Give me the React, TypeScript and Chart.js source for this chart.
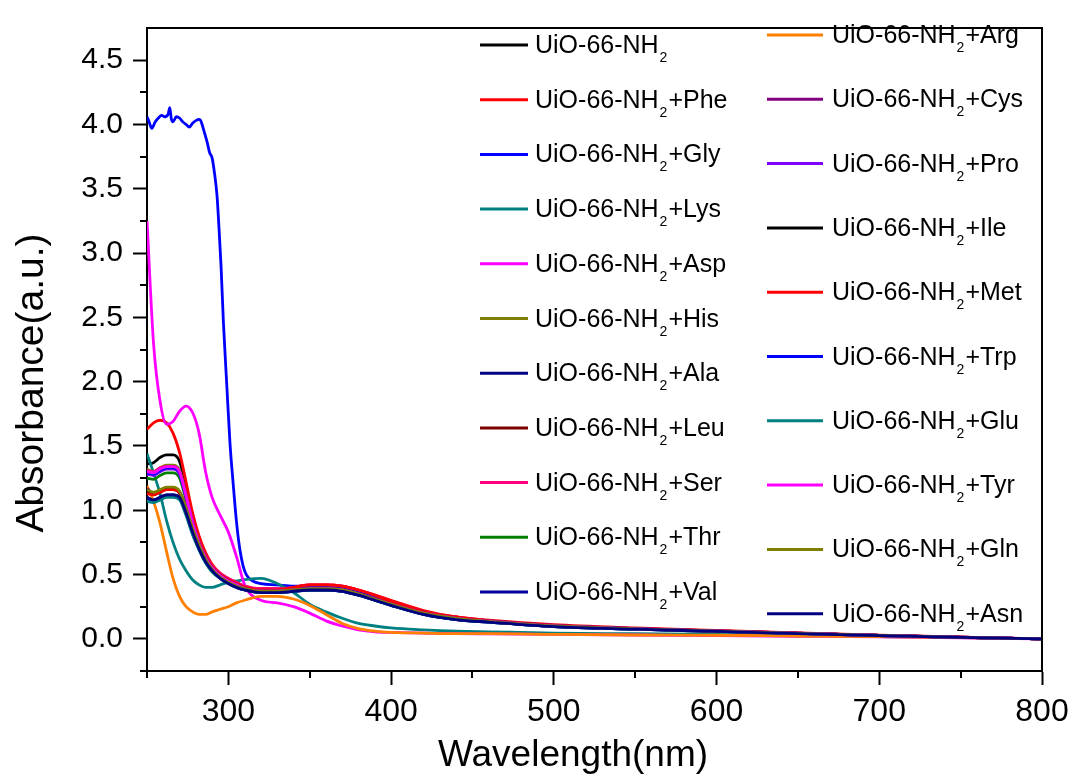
import React, { useEffect, useRef } from "react";
import { Chart, registerables } from "chart.js";

Chart.register(...registerables);

// Wavelength grid (nm) shared by most spectra
const WL = [250, 254, 258, 262, 266, 270, 274, 278, 282, 286, 290, 295, 300, 305, 310, 320, 330, 340, 350, 360, 370, 380, 390, 400, 420, 440, 460, 500, 550, 600, 650, 700, 750, 800];

// Gly spectrum is sampled more densely (noisy saturated plateau)
const GLY_WL = [250, 251, 253, 255, 257, 259, 261, 263, 264, 265, 266, 268, 270, 272, 274, 276, 278, 280, 282, 283, 285, 287, 288.5, 290, 291.5, 293, 294, 295.5, 297, 299, 301, 303, 305, 307, 309, 311, 315, 320, 330, 340, 350, 360, 370, 380, 390, 400, 420, 440, 460, 500, 550, 600, 650, 700, 750, 800];

const A_NH2 = [1.36, 1.37, 1.41, 1.43, 1.43, 1.38, 1.18, 0.94, 0.76, 0.64, 0.56, 0.50, 0.46, 0.43, 0.40, 0.38, 0.38, 0.39, 0.40, 0.40, 0.39, 0.36, 0.32, 0.28, 0.21, 0.165, 0.14, 0.105, 0.08, 0.062, 0.044, 0.027, 0.013, 0];
const A_PHE = [1.63, 1.68, 1.70, 1.68, 1.60, 1.45, 1.22, 0.98, 0.80, 0.67, 0.58, 0.51, 0.47, 0.44, 0.41, 0.39, 0.39, 0.40, 0.42, 0.42, 0.41, 0.38, 0.34, 0.30, 0.22, 0.17, 0.145, 0.11, 0.085, 0.065, 0.046, 0.028, 0.014, 0];
const A_GLY = [4.06, 4.03, 3.97, 4.02, 4.05, 4.07, 4.06, 4.08, 4.13, 4.04, 4.02, 4.06, 4.05, 4.02, 4.00, 3.98, 4.01, 4.03, 4.04, 4.03, 3.95, 3.86, 3.78, 3.74, 3.62, 3.45, 3.25, 2.9, 2.45, 1.98, 1.52, 1.2, 0.91, 0.70, 0.57, 0.50, 0.45, 0.43, 0.42, 0.41, 0.41, 0.41, 0.40, 0.36, 0.32, 0.28, 0.21, 0.165, 0.14, 0.105, 0.08, 0.062, 0.044, 0.027, 0.013, 0];
const A_LYS = [1.44, 1.29, 1.13, 0.92, 0.75, 0.62, 0.53, 0.46, 0.42, 0.40, 0.40, 0.42, 0.44, 0.45, 0.46, 0.47, 0.43, 0.36, 0.27, 0.21, 0.16, 0.12, 0.10, 0.085, 0.07, 0.06, 0.055, 0.045, 0.04, 0.035, 0.025, 0.018, 0.01, 0];
const A_ASP = [3.25, 2.30, 1.85, 1.67, 1.69, 1.77, 1.81, 1.76, 1.60, 1.30, 1.10, 0.96, 0.83, 0.64, 0.42, 0.30, 0.28, 0.25, 0.20, 0.14, 0.10, 0.07, 0.055, 0.05, 0.045, 0.04, 0.038, 0.035, 0.03, 0.025, 0.02, 0.015, 0.008, 0];
const A_HIS = [1.32, 1.30, 1.33, 1.35, 1.35, 1.31, 1.12, 0.91, 0.75, 0.63, 0.55, 0.49, 0.45, 0.42, 0.39, 0.37, 0.37, 0.38, 0.39, 0.39, 0.38, 0.35, 0.31, 0.27, 0.20, 0.16, 0.135, 0.10, 0.078, 0.06, 0.042, 0.026, 0.012, 0];
const A_ALA = [1.10, 1.08, 1.10, 1.12, 1.12, 1.10, 0.98, 0.83, 0.70, 0.60, 0.53, 0.47, 0.43, 0.40, 0.38, 0.36, 0.36, 0.37, 0.38, 0.38, 0.37, 0.34, 0.30, 0.26, 0.19, 0.15, 0.13, 0.095, 0.075, 0.058, 0.04, 0.025, 0.012, 0];
const A_LEU = [1.14, 1.12, 1.14, 1.16, 1.16, 1.13, 1.00, 0.85, 0.72, 0.62, 0.54, 0.48, 0.44, 0.41, 0.39, 0.37, 0.37, 0.38, 0.39, 0.39, 0.38, 0.35, 0.31, 0.27, 0.20, 0.16, 0.135, 0.10, 0.078, 0.06, 0.042, 0.026, 0.012, 0];
const A_SER = [1.31, 1.30, 1.33, 1.34, 1.34, 1.30, 1.12, 0.92, 0.76, 0.65, 0.57, 0.51, 0.47, 0.44, 0.41, 0.39, 0.39, 0.40, 0.42, 0.42, 0.41, 0.38, 0.34, 0.29, 0.21, 0.17, 0.14, 0.105, 0.08, 0.062, 0.044, 0.027, 0.013, 0];
const A_THR = [1.25, 1.24, 1.27, 1.29, 1.29, 1.25, 1.08, 0.88, 0.73, 0.62, 0.55, 0.49, 0.45, 0.42, 0.39, 0.37, 0.37, 0.38, 0.39, 0.39, 0.38, 0.35, 0.31, 0.27, 0.20, 0.16, 0.135, 0.10, 0.078, 0.06, 0.042, 0.026, 0.012, 0];
const A_VAL = [1.09, 1.07, 1.09, 1.11, 1.11, 1.09, 0.97, 0.82, 0.70, 0.60, 0.53, 0.47, 0.43, 0.40, 0.38, 0.36, 0.36, 0.37, 0.38, 0.38, 0.37, 0.34, 0.30, 0.26, 0.19, 0.15, 0.13, 0.095, 0.075, 0.058, 0.04, 0.025, 0.012, 0];
const A_ARG = [1.19, 1.07, 0.90, 0.68, 0.47, 0.33, 0.25, 0.21, 0.19, 0.19, 0.21, 0.23, 0.25, 0.28, 0.30, 0.33, 0.33, 0.31, 0.26, 0.19, 0.12, 0.08, 0.06, 0.05, 0.045, 0.04, 0.04, 0.035, 0.03, 0.028, 0.022, 0.017, 0.01, 0];
const A_CYS = [1.17, 1.13, 1.15, 1.17, 1.17, 1.14, 1.01, 0.85, 0.72, 0.62, 0.54, 0.48, 0.44, 0.41, 0.39, 0.37, 0.37, 0.38, 0.39, 0.39, 0.38, 0.35, 0.31, 0.27, 0.20, 0.16, 0.135, 0.10, 0.078, 0.06, 0.042, 0.026, 0.012, 0];
const A_PRO = [1.28, 1.27, 1.30, 1.32, 1.32, 1.28, 1.10, 0.89, 0.74, 0.63, 0.55, 0.49, 0.45, 0.42, 0.39, 0.37, 0.37, 0.38, 0.39, 0.39, 0.38, 0.35, 0.31, 0.27, 0.20, 0.16, 0.135, 0.10, 0.078, 0.06, 0.042, 0.026, 0.012, 0];
const A_ILE = [1.15, 1.13, 1.15, 1.17, 1.17, 1.14, 1.01, 0.85, 0.72, 0.62, 0.54, 0.48, 0.44, 0.41, 0.39, 0.37, 0.37, 0.38, 0.39, 0.39, 0.38, 0.35, 0.31, 0.27, 0.20, 0.16, 0.135, 0.10, 0.078, 0.06, 0.042, 0.026, 0.012, 0];
const A_MET = [1.13, 1.12, 1.14, 1.16, 1.16, 1.14, 1.02, 0.88, 0.75, 0.64, 0.56, 0.50, 0.46, 0.43, 0.40, 0.38, 0.38, 0.40, 0.42, 0.42, 0.41, 0.38, 0.34, 0.29, 0.21, 0.17, 0.14, 0.105, 0.08, 0.062, 0.044, 0.027, 0.013, 0];
const A_TRP = [1.29, 1.28, 1.31, 1.33, 1.33, 1.29, 1.10, 0.90, 0.74, 0.63, 0.55, 0.49, 0.45, 0.42, 0.39, 0.37, 0.37, 0.38, 0.39, 0.39, 0.38, 0.35, 0.31, 0.27, 0.20, 0.16, 0.135, 0.10, 0.078, 0.06, 0.042, 0.026, 0.012, 0];
const A_GLU = [1.07, 1.06, 1.08, 1.10, 1.10, 1.08, 0.96, 0.81, 0.69, 0.59, 0.52, 0.47, 0.43, 0.40, 0.38, 0.36, 0.36, 0.37, 0.38, 0.38, 0.37, 0.34, 0.30, 0.26, 0.19, 0.15, 0.13, 0.095, 0.075, 0.058, 0.04, 0.025, 0.012, 0];
const A_TYR = [1.30, 1.29, 1.32, 1.34, 1.34, 1.30, 1.11, 0.90, 0.74, 0.63, 0.55, 0.49, 0.45, 0.42, 0.39, 0.37, 0.37, 0.38, 0.39, 0.39, 0.38, 0.35, 0.31, 0.27, 0.20, 0.16, 0.135, 0.10, 0.078, 0.06, 0.042, 0.026, 0.012, 0];
const A_GLN = [1.16, 1.14, 1.16, 1.18, 1.18, 1.15, 1.02, 0.86, 0.73, 0.62, 0.54, 0.48, 0.44, 0.41, 0.39, 0.37, 0.37, 0.38, 0.39, 0.39, 0.38, 0.35, 0.31, 0.27, 0.20, 0.16, 0.135, 0.10, 0.078, 0.06, 0.042, 0.026, 0.012, 0];
const A_ASN = [1.10, 1.08, 1.10, 1.12, 1.12, 1.10, 0.98, 0.83, 0.70, 0.60, 0.53, 0.47, 0.43, 0.40, 0.38, 0.36, 0.36, 0.37, 0.38, 0.38, 0.37, 0.34, 0.30, 0.26, 0.19, 0.15, 0.13, 0.095, 0.075, 0.058, 0.04, 0.025, 0.012, 0];

// Legend suffixes (after "UiO-66-NH₂"), colours and values, in plotting order
const SUFFIXES = ["", "+Phe", "+Gly", "+Lys", "+Asp", "+His", "+Ala", "+Leu", "+Ser", "+Thr", "+Val", "+Arg", "+Cys", "+Pro", "+Ile", "+Met", "+Trp", "+Glu", "+Tyr", "+Gln", "+Asn"];
const COLORS = ["#000000", "#FF0000", "#0000FF", "#008080", "#FF00FF", "#808000", "#000080", "#800000", "#FF0080", "#008000", "#0000A0", "#FF8000", "#800080", "#8000FF", "#000000", "#FF0000", "#0000FF", "#008080", "#FF00FF", "#808000", "#000080"];
const VALUES = [A_NH2, A_PHE, A_GLY, A_LYS, A_ASP, A_HIS, A_ALA, A_LEU, A_SER, A_THR, A_VAL, A_ARG, A_CYS, A_PRO, A_ILE, A_MET, A_TRP, A_GLU, A_TYR, A_GLN, A_ASN];

const X_MAJOR = [300, 400, 500, 600, 700, 800];
const X_MINOR = [250, 350, 450, 550, 650, 750];
const Y_MAJOR = [0, 0.5, 1, 1.5, 2, 2.5, 3, 3.5, 4, 4.5];
const Y_MINOR = [-0.25, 0.25, 0.75, 1.25, 1.75, 2.25, 2.75, 3.25, 3.75, 4.25];

const FONT = '"Liberation Sans", Arial, sans-serif';

// Full frame, minor ticks and axis titles
const framePlugin = {
  id: "frameAndMinor",
  afterDraw(chart: any) {
    const { ctx, chartArea: a, scales } = chart;
    ctx.save();
    ctx.strokeStyle = "#000";
    ctx.lineWidth = 2;
    ctx.beginPath();
    ctx.moveTo(a.left, a.top);
    ctx.lineTo(a.right, a.top);
    ctx.lineTo(a.right, a.bottom);
    ctx.stroke();
    ctx.beginPath();
    X_MINOR.forEach((v) => {
      const px = Math.round(scales.x.getPixelForValue(v));
      ctx.moveTo(px, a.bottom);
      ctx.lineTo(px, a.bottom + 7);
    });
    Y_MINOR.forEach((v) => {
      const py = Math.round(scales.y.getPixelForValue(v));
      ctx.moveTo(a.left, py);
      ctx.lineTo(a.left - 7, py);
    });
    ctx.stroke();

    ctx.fillStyle = "#000";
    ctx.textAlign = "center";
    ctx.textBaseline = "alphabetic";
    ctx.font = `37px ${FONT}`;
    ctx.fillText("Wavelength(nm)", 573, 766);
    ctx.translate(43, 383);
    ctx.rotate(-Math.PI / 2);
    ctx.font = `39px ${FONT}`;
    ctx.fillText("Absorbance(a.u.)", 0, 0);
    ctx.restore();
  },
};

// Two-column legend with subscripted NH2
const legendPlugin = {
  id: "twoColumnLegend",
  afterDatasetsDraw(chart: any) {
    const ctx = chart.ctx;
    ctx.save();
    SUFFIXES.forEach((suffix, i) => {
      const col = i < 11 ? 0 : 1;
      const row = col === 0 ? i : i - 11;
      const y = col === 0 ? 45 + row * 54.7 : 35 + row * 64.3;
      const x0 = col === 0 ? 480 : 767;
      const x1 = col === 0 ? 528 : 823;
      const tx = col === 0 ? 535 : 832;
      ctx.strokeStyle = COLORS[i];
      ctx.lineWidth = 3;
      ctx.beginPath();
      ctx.moveTo(x0, y);
      ctx.lineTo(x1, y);
      ctx.stroke();
      ctx.fillStyle = "#000";
      ctx.textAlign = "left";
      ctx.textBaseline = "alphabetic";
      ctx.font = `25px ${FONT}`;
      const base = "UiO-66-NH";
      ctx.fillText(base, tx, y + 8);
      const w = ctx.measureText(base).width;
      ctx.font = `14px ${FONT}`;
      ctx.fillText("2", tx + w + 1, y + 17);
      const sw = ctx.measureText("2").width;
      ctx.font = `25px ${FONT}`;
      if (suffix) ctx.fillText(suffix, tx + w + sw + 2, y + 8);
    });
    ctx.restore();
  },
};

export default function App() {
  const ref = useRef<HTMLCanvasElement>(null);

  useEffect(() => {
    const datasets = VALUES.map((vals, i) => {
      const xs = vals === A_GLY ? GLY_WL : WL;
      return {
        label: "UiO-66-NH₂" + SUFFIXES[i],
        data: vals.map((v, k) => ({ x: xs[k], y: v })),
        borderColor: COLORS[i],
        backgroundColor: COLORS[i],
        borderWidth: 2.8,
        pointRadius: 0,
        cubicInterpolationMode: "monotone" as const,
        order: VALUES.length - i,
      };
    });

    const chart = new Chart(ref.current!, {
      type: "line",
      data: { datasets },
      options: {
        animation: false,
        responsive: false,
        devicePixelRatio: 1,
        layout: { padding: { left: 0, top: 16, right: 36, bottom: 0 } },
        plugins: { legend: { display: false }, tooltip: { enabled: false } },
        scales: {
          x: {
            type: "linear",
            min: 250,
            max: 800,
            afterBuildTicks: (s: any) => {
              s.ticks = X_MAJOR.map((v) => ({ value: v }));
            },
            afterFit: (s: any) => {
              s.height = 105;
            },
            ticks: {
              color: "#000",
              font: { family: FONT, size: 32 },
              padding: 8,
              maxRotation: 0,
              autoSkip: false,
              callback: (v: any) => String(v),
            },
            grid: { drawOnChartArea: false, tickLength: 14, tickWidth: 2, tickColor: "#000" },
            border: { display: true, width: 2, color: "#000" },
          },
          y: {
            type: "linear",
            min: -0.25,
            max: 4.75,
            afterBuildTicks: (s: any) => {
              s.ticks = Y_MAJOR.map((v) => ({ value: v }));
            },
            afterFit: (s: any) => {
              s.width = 147;
            },
            ticks: {
              color: "#000",
              font: { family: FONT, size: 30 },
              padding: 10,
              autoSkip: false,
              callback: (v: any) => Number(v).toFixed(1),
            },
            grid: { drawOnChartArea: false, tickLength: 14, tickWidth: 2, tickColor: "#000" },
            border: { display: true, width: 2, color: "#000" },
          },
        },
      },
      plugins: [legendPlugin, framePlugin],
    });
    return () => chart.destroy();
  }, []);

  return (
    <div style={{ position: "absolute", left: 0, top: 0, width: 1078, height: 776, background: "#fff" }}>
      <canvas ref={ref} width={1078} height={776} style={{ display: "block" }} />
    </div>
  );
}
